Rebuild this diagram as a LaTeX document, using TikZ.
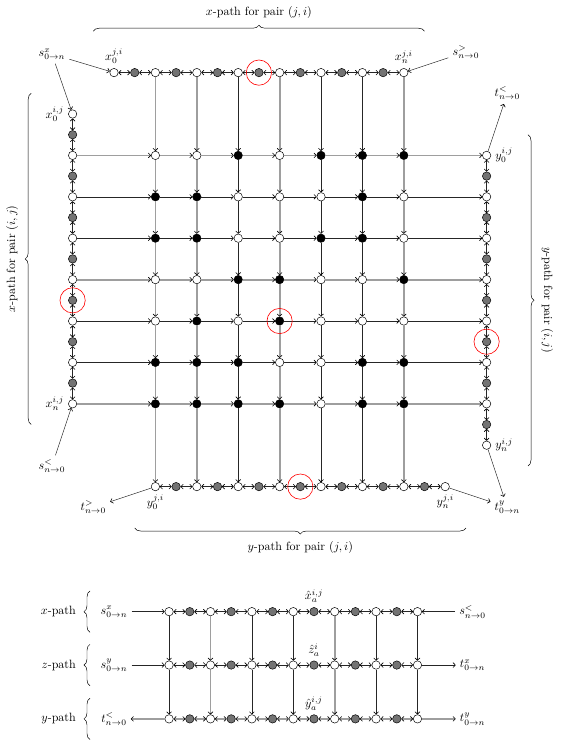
\documentclass[tikz,border=0pt]{standalone}
\usetikzlibrary{arrows.meta,decorations.pathreplacing}

\tikzset{
  wnode/.style={circle,draw,fill=white,inner sep=0pt,minimum size=7pt},
  gnode/.style={wnode,fill=black!55},
  bnode/.style={wnode,fill=black},
  dk/.style={black!85,line width=0.4pt},
  lt/.style={black!38,line width=1.5pt},
  hl/.style={circle,draw=red,line width=0.5pt,inner sep=0pt,minimum size=21pt},
  brc/.style={decorate,decoration={brace,amplitude=5pt}},
}

\begin{document}
\begin{tikzpicture}[x=1.21cm,y=-1.21cm,>={To[length=2.4pt,width=4.4pt,line width=0.5pt,color=black]}]
        \useasboundingbox (-2.754,-2.754) rectangle (10.773,15.217);
        % the four border paths
        \foreach \c in {0,...,7} \node[wnode] (t-\c) at (\c,-1) {};
        \foreach \c in {0,...,6} \node[gnode] (tg-\c) at (\c+0.5,-1) {};
        \foreach \r in {0,...,7} \node[wnode] (l-\r) at (-1,\r) {};
        \foreach \r in {0,...,6} \node[gnode] (lg-\r) at (-1,\r+0.5) {};
        \foreach \r in {1,...,8} \node[wnode] (rt-\r) at (9,\r) {};
        \foreach \r in {1,...,7} \node[gnode] (rg-\r) at (9,\r+0.5) {};
        \foreach \c in {1,...,8} \node[wnode] (b-\c) at (\c,9) {};
        \foreach \c in {1,...,7} \node[gnode] (bg-\c) at (\c+0.5,9) {};
        % crossings
        \foreach \r/\row in {1/{wnode,wnode,bnode,wnode,bnode,bnode,bnode},
                             2/{bnode,bnode,wnode,wnode,wnode,bnode,wnode},
                             3/{bnode,bnode,wnode,wnode,bnode,bnode,wnode},
                             4/{wnode,wnode,bnode,bnode,wnode,wnode,bnode},
                             5/{wnode,bnode,wnode,bnode,wnode,wnode,wnode},
                             6/{bnode,bnode,bnode,wnode,wnode,bnode,bnode},
                             7/{bnode,bnode,bnode,bnode,wnode,bnode,bnode}}{
            \foreach \k [count=\c] in \row
                \node[\k] (m-\c-\r) at (\c,\r) {};
        }
        \foreach \c [count=\n] in {0,...,6}{
            \draw[dk,<->] (t-\c) -- (tg-\c);
            \draw[dk,<->] (tg-\c) -- (t-\n);
            \draw[dk,<->] (l-\c) -- (lg-\c);
            \draw[dk,<->] (lg-\c) -- (l-\n);
        }
        \foreach \c [count=\n from 2] in {1,...,7}{
            \draw[dk,<->] (rt-\c) -- (rg-\c);
            \draw[dk,<->] (rg-\c) -- (rt-\n);
            \draw[dk,<->] (b-\c) -- (bg-\c);
            \draw[dk,<->] (bg-\c) -- (b-\n);
        }
        \foreach \c/\s in {1/lt,2/lt,3/dk,4/lt,5/dk,6/dk,7/lt}{
            \draw[\s,->] (t-\c) -- (m-\c-1);
            \foreach \r [count=\n from 2] in {1,...,6}
                \draw[\s,->] (m-\c-\r) -- (m-\c-\n);
            \draw[\s,->] (m-\c-7) -- (b-\c);
        }
        \foreach \r/\s in {1/lt,2/dk,3/dk,4/lt,5/dk,6/dk,7/lt}{
            \draw[\s,->] (l-\r) -- (m-1-\r);
            \foreach \c [count=\n from 2] in {1,...,6}
                \draw[\s,->] (m-\c-\r) -- (m-\n-\r);
            \draw[\s,->] (m-7-\r) -- (rt-\r);
        }
        % end labels
        \node[above] (lx0t) at (t-0.north) {$x_0^{j,i}$};
        \node[above] (lxnt) at (t-7.north) {$x_n^{j,i}$};
        \node[left] (lx0l) at (l-0.west) {$x_0^{i,j}$};
        \node[left] (lxnl) at (l-7.west) {$x_n^{i,j}$};
        \node[right] (ly0r) at (rt-1.east) {$y_0^{i,j}$};
        \node[right] (lynr) at (rt-8.east) {$y_n^{i,j}$};
        \node[below] (ly0b) at (b-1.south) {$y_0^{j,i}$};
        \node[below] (lynb) at (b-8.south) {$y_n^{j,i}$};
        \node (sx) at (-1.5,-1.45) {$s^{x}_{0\to n}$};
        \node (sgt) at (8.5,-1.5) {$s^{>}_{n\to 0}$};
        \node (tlt) at (9.5,-0.5) {$t^{<}_{n\to 0}$};
        \node (slt) at (-1.5,8.5) {$s^{<}_{n\to 0}$};
        \node (tgt) at (-0.5,9.5) {$t^{>}_{n\to 0}$};
        \node (ty) at (9.5,9.5) {$t^{y}_{0\to n}$};
        \draw[dk,->] (sx) -- (t-0);
        \draw[dk,->] (sx) -- (l-0);
        \draw[dk,->] (sgt) -- (t-7);
        \draw[dk,->] (slt) -- (l-7);
        \draw[dk,->] (rt-1) -- (tlt);
        \draw[dk,->] (b-1) -- (tgt);
        \draw[dk,->] (rt-8) -- (ty);
        \draw[dk,->] (b-8) -- (ty);
        % braces
        \draw[brc] (-0.5,-2) -- (7.5,-2);
        \node (bt) at (3.5,-2.44) {$x$-path for pair $(j,i)$};
        \draw[brc] (-2,7.5) -- (-2,-0.5);
        \node[rotate=90] (bl) at (-2.46,3.5) {$x$-path for pair $(i,j)$};
        \draw[brc] (10,0.5) -- (10,8.5);
        \node[rotate=-90] (br) at (10.46,4.5) {$y$-path for pair $(i,j)$};
        \draw[brc] (8.5,10) -- (0.5,10);
        \node (bb) at (4.5,10.46) {$y$-path for pair $(j,i)$};
        % marked nodes
        \node[hl] (h-t) at (3.5,-1) {};
        \node[hl] (h-l) at (-1,4.5) {};
        \node[hl] (h-m) at (4,5) {};
        \node[hl] (h-r) at (9,5.5) {};
        \node[hl] (h-b) at (4.5,9) {};

        % the three paths below
        \foreach \p/\y in {bx/12.02,bz/13.31,by/14.61}{
            \foreach \k in {0,...,6} \node[wnode] (\p-\k) at (\k+1.33,\y) {};
            \foreach \k in {0,...,5} \node[gnode] (\p-g\k) at (\k+1.83,\y) {};
        }
        \foreach \p/\s in {bx/dk,bz/dk,by/lt}{
            \foreach \k [count=\n] in {0,...,5}{
                \draw[\s,<->] (\p-\k) -- (\p-g\k);
                \draw[\s,<->] (\p-g\k) -- (\p-\n);
            }
        }
        \foreach \k/\s in {0/dk,1/lt,2/dk,3/dk,4/lt,5/dk,6/dk}{
            \draw[\s,->] (bx-\k) -- (bz-\k);
            \draw[\s,->] (bz-\k) -- (by-\k);
        }
        \foreach \p/\y/\t in {px/12.02/$x$-path,pz/13.31/$z$-path,py/14.61/$y$-path}{
            \node[left] (\p) at (-0.82,\y) {\t};
            \draw[brc] (-0.58,\y+0.5) -- (-0.58,\y-0.5);
        }
        \node (bsx) at (0,12.02) {$s^{x}_{0\to n}$};
        \node (bslt) at (8.66,12.02) {$s^{<}_{n\to 0}$};
        \node (bsy) at (0,13.31) {$s^{y}_{0\to n}$};
        \node (btx) at (8.66,13.31) {$t^{x}_{0\to n}$};
        \node (btlt) at (0,14.61) {$t^{<}_{n\to 0}$};
        \node (bty) at (8.66,14.61) {$t^{y}_{0\to n}$};
        \draw[dk,->] (bsx) -- (bx-0);
        \draw[dk,->] (bslt) -- (bx-6);
        \draw[dk,->] (bsy) -- (bz-0);
        \draw[dk,->] (bz-6) -- (btx);
        \draw[lt,->] (by-0) -- (btlt);
        \draw[lt,->] (by-6) -- (bty);
        \node[above] (hx) at (bx-g3.north) {$\hat{x}_a^{i,j}$};
        \node[above] (hz) at (bz-g3.north) {$\hat{z}_a^{i}$};
        \node[above] (hy) at (by-g3.north) {$\hat{y}_a^{i,j}$};
    \end{tikzpicture}
\end{document}
